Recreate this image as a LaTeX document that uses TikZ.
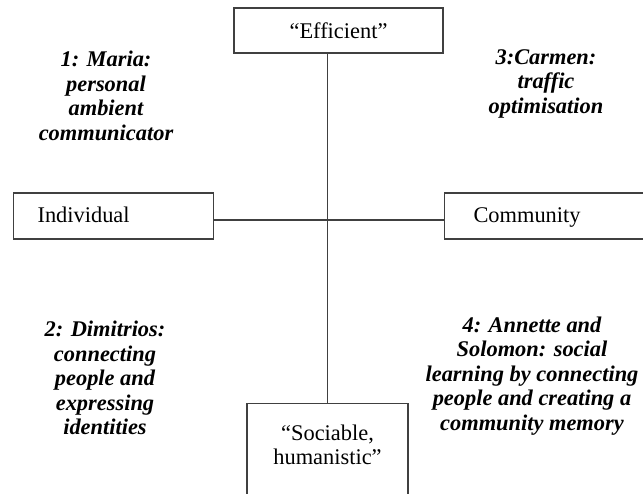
\documentclass[tikz,border=0pt]{standalone}
\usepackage{fontspec}
\setmainfont{Liberation Serif}
\begin{document}
\begin{tikzpicture}[x=1pt,y=1pt,
  boxst/.style={draw=black!75, line width=1.1pt, rectangle, inner sep=0pt},
  linkst/.style={draw=black!75, line width=1.1pt},
  lbl/.style={inner sep=0pt, font=\fontsize{22.4}{24.5}\selectfont},
  sidebox/.style={boxst, minimum height=46pt, anchor=west, align=left, text height=15pt, text depth=3pt, font=\fontsize{22.4}{24.5}\selectfont},
  quad/.style={inner sep=0pt, align=center, font=\fontsize{22.4}{24.5}\selectfont\bfseries\itshape}]
\useasboundingbox (0,0) rectangle (643,-493);
\clip (0,0) rectangle (643,-493);
% axis boxes
\node[boxst, minimum width=209pt, minimum height=45pt, lbl, inner sep=0pt] (eff) at (338.5,-30.5) {“Efficient”};
\node[sidebox, minimum width=200pt, inner xsep=24pt, text width=152pt] (ind) at (13,-216) {Individual};
\node[sidebox, minimum width=260pt, inner xsep=29pt, text width=202pt] (com) at (444,-216) {Community};
\node[boxst, minimum width=161pt, minimum height=110pt, anchor=north] (soc) at (327.5,-403) {};
\node[lbl, align=center] (soctext) at (327.5,-445) {“Sociable,\\humanistic”};
% connectors
\coordinate (hline) at (0,-220);
\draw[linkst] (soc.north |- eff.south) -- (soc.north);
\draw[linkst] (ind.east |- hline) -- (com.west |- hline);
% quadrant labels
\node[quad] (q1) at (106,-96) {1: Maria:\\personal\\ambient\\communicator};
\node[quad] (q3) at (546,-83.5) {3:Carmen:\\traffic\\optimisation};
\node[quad] (q2) at (105,-378) {2: Dimitrios:\\connecting\\people and\\expressing\\identities};
\node[quad] (q4) at (532,-376) {4: Annette and\\Solomon: social\\learning by connecting\\people and creating a\\community memory};
\end{tikzpicture}
\end{document}
